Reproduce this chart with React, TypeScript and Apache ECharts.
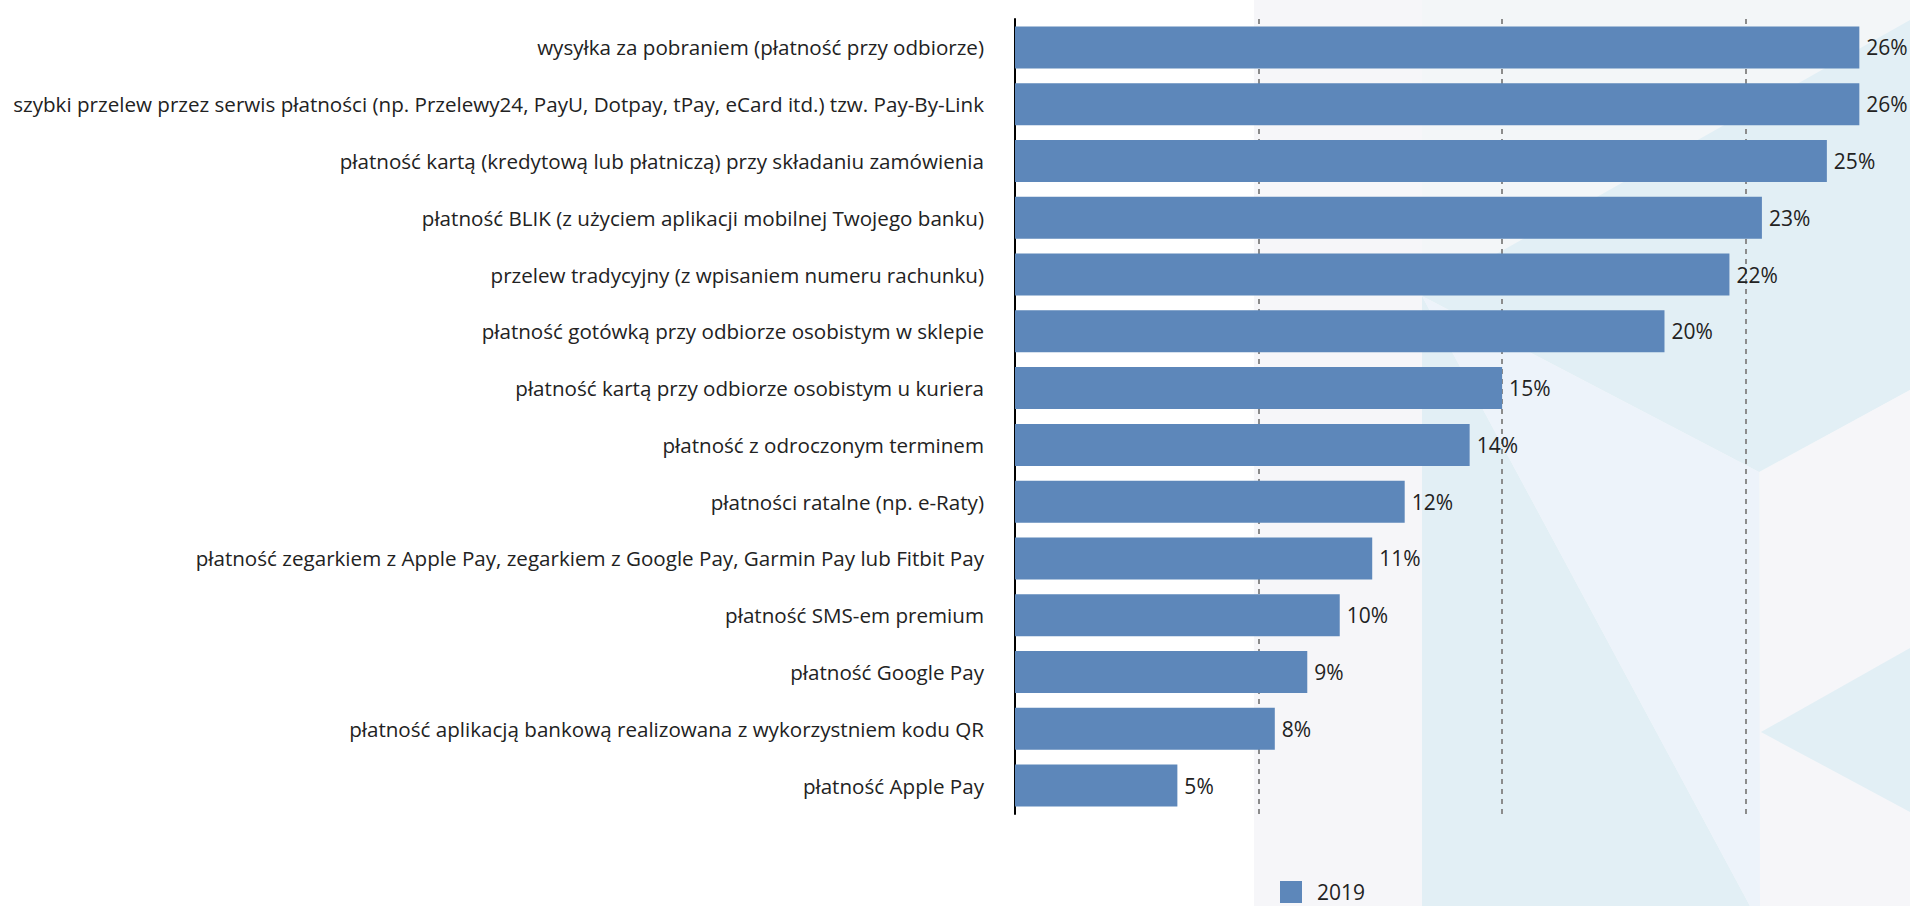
import React, { useEffect, useRef } from "react";
import * as echarts from "echarts";

const categories: string[] = [
  "wysyłka za pobraniem (płatność przy odbiorze)",
  "szybki przelew przez serwis płatności (np. Przelewy24, PayU, Dotpay, tPay, eCard itd.) tzw. Pay-By-Link",
  "płatność kartą (kredytową lub płatniczą) przy składaniu zamówienia",
  "płatność BLIK (z użyciem aplikacji mobilnej Twojego banku)",
  "przelew tradycyjny (z wpisaniem numeru rachunku)",
  "płatność gotówką przy odbiorze osobistym w sklepie",
  "płatność kartą przy odbiorze osobistym u kuriera",
  "płatność z odroczonym terminem",
  "płatności ratalne (np. e-Raty)",
  "płatność zegarkiem z Apple Pay, zegarkiem z Google Pay, Garmin Pay lub Fitbit Pay",
  "płatność SMS-em premium",
  "płatność Google Pay",
  "płatność aplikacją bankową realizowana z wykorzystniem kodu QR",
  "płatność Apple Pay",
];

const values2019: number[] = [26, 26, 25, 23, 22, 20, 15, 14, 12, 11, 10, 9, 8, 5];

const seriesName = "2019";
const axisMax = 27.56;
const axisInterval = 7.5;

const FONT = "'Open Sans', 'Noto Sans', sans-serif";

export default function App() {
  const ref = useRef<HTMLDivElement>(null);

  useEffect(() => {
    document.body.style.margin = "0";
    if (!ref.current) return;
    const chart = echarts.init(ref.current, null, { renderer: "svg" });

    const bgLav = "#f6f6f9";
    const bgBlue = "#e2eff5";
    const bgLight = "#edf3fa";
    const bgTop = "#f3f6f8";

    chart.setOption({
      animation: false,
      backgroundColor: "#ffffff",
      graphic: [
        { type: "rect", z: -100, silent: true, shape: { x: 1254, y: 0, width: 656, height: 906 }, style: { fill: bgLav } },
        { type: "rect", z: -99, silent: true, shape: { x: 1422, y: 0, width: 488, height: 906 }, style: { fill: bgTop } },
        { type: "polygon", z: -98, silent: true, shape: { points: [[1422, 296], [1910, 20], [1910, 390], [1759, 472]] }, style: { fill: bgBlue } },
        { type: "polygon", z: -98, silent: true, shape: { points: [[1422, 296], [1750, 906], [1422, 906]] }, style: { fill: bgBlue } },
        { type: "polygon", z: -98, silent: true, shape: { points: [[1422, 296], [1759, 472], [1760, 906], [1750, 906]] }, style: { fill: bgLight } },
        { type: "polygon", z: -98, silent: true, shape: { points: [[1760, 472], [1910, 390], [1910, 906], [1760, 906]] }, style: { fill: bgLav } },
        { type: "polygon", z: -97, silent: true, shape: { points: [[1761, 732], [1910, 648], [1910, 812]] }, style: { fill: bgBlue } },
      ],
      legend: {
        data: [seriesName],
        left: 1275,
        top: 876,
        icon: "rect",
        itemWidth: 22,
        itemHeight: 22,
        itemGap: 10,
        textStyle: { fontFamily: FONT, fontSize: 21, color: "#222222", padding: [0, 0, 0, 10] },
      },
      grid: { left: 1015, right: 0, top: 19, height: 795, containLabel: false },
      xAxis: {
        type: "value",
        min: 0,
        max: axisMax,
        interval: axisInterval,
        axisLine: { show: false },
        axisTick: { show: false },
        axisLabel: { show: false },
        splitLine: {
          show: true,
          showMinLine: false,
          showMaxLine: false,
          lineStyle: { color: "#8c8c8c", width: 2, type: [5, 5] },
        },
      },
      yAxis: {
        type: "category",
        data: categories,
        inverse: true,
        axisLine: { show: true, lineStyle: { color: "#000000", width: 2 } },
        axisTick: { show: false },
        axisLabel: {
          margin: 31,
          fontFamily: FONT,
          fontSize: 20.6,
          color: "#222222",
        },
      },
      series: [
        {
          name: seriesName,
          type: "bar",
          data: values2019,
          barWidth: 42,
          itemStyle: { color: "#5d87ba" },
          label: {
            show: true,
            position: "right",
            distance: 7,
            formatter: "{c}%",
            fontFamily: FONT,
            fontSize: 21,
            color: "#222222",
          },
        },
      ],
    });

    return () => chart.dispose();
  }, []);

  return (
    <div
      ref={ref}
      style={{ position: "fixed", left: 0, top: 0, width: 1910, height: 906 }}
    />
  );
}
